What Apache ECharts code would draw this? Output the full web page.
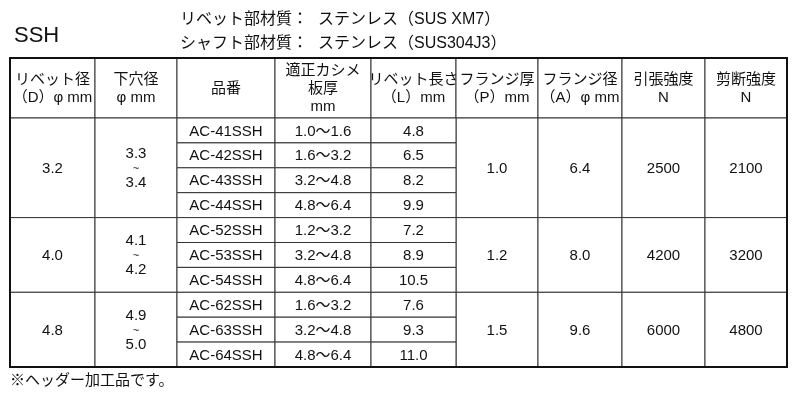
<!DOCTYPE html><html><head><meta charset="utf-8"><script src="https://cdn.jsdelivr.net/npm/echarts@6/dist/echarts.min.js"></script>
<style>body{margin:0}#c{width:800px;height:400px}</style></head><body><div id="c"></div><script>
const headers=['リベット径\n（D）φ mm','下穴径\nφ mm','品番','適正カシメ\n板厚\nmm','リベット長さ\n（L）mm','フランジ厚\n（P）mm','フランジ径\n（A）φ mm','引張強度\nN','剪断強度\nN'];
const rivetDia=['3.2','4.0','4.8'];
const holeDia=['3.3\n~\n3.4','4.1\n~\n4.2','4.9\n~\n5.0'];
const groupSizes=[4,3,3];
const partNos=['AC-41SSH','AC-42SSH','AC-43SSH','AC-44SSH','AC-52SSH','AC-53SSH','AC-54SSH','AC-62SSH','AC-63SSH','AC-64SSH'];
const thickness=['1.0～1.6','1.6～3.2','3.2～4.8','4.8～6.4','1.2～3.2','3.2～4.8','4.8～6.4','1.6～3.2','3.2～4.8','4.8～6.4'];
const lengths=['4.8','6.5','8.2','9.9','7.2','8.9','10.5','7.6','9.3','11.0'];
const flangeT=['1.0','1.2','1.5'];
const flangeD=['6.4','8.0','9.6'];
const tensile=['2500','4200','6000'];
const shear=['2100','3200','4800'];
const colX=[10,95,177,275,371,456,538,622,705,787];
const headTop=58, headBot=118, rowH=24.9;
const rowY=i=>headBot+i*rowH;
const cells=[];
headers.forEach((h,i)=>cells.push({c0:i,c1:i+1,y0:headTop,y1:headBot,t:h}));
let r=0;
groupSizes.forEach((n,g)=>{
  const y0=rowY(r),y1=rowY(r+n);
  [[0,rivetDia],[1,holeDia],[5,flangeT],[6,flangeD],[7,tensile],[8,shear]].forEach(([c,a])=>cells.push({c0:c,c1:c+1,y0,y1,t:a[g],hole:c===1}));
  for(let k=0;k<n;k++){const i=r+k;
    cells.push({c0:2,c1:3,y0:rowY(i),y1:rowY(i+1),t:partNos[i]});
    cells.push({c0:3,c1:4,y0:rowY(i),y1:rowY(i+1),t:thickness[i]});
    cells.push({c0:4,c1:5,y0:rowY(i),y1:rowY(i+1),t:lengths[i]});}
  r+=n;
});
const F='"Liberation Sans","Noto Sans CJK JP",sans-serif';
const chart=echarts.init(document.getElementById('c'));
chart.setOption({animation:false,backgroundColor:'#fff',
 grid:{left:0,right:0,top:0,bottom:0},
 xAxis:{type:'value',min:0,max:800,show:false},
 yAxis:{type:'value',min:0,max:400,inverse:true,show:false},
 series:[{type:'custom',data:cells.map((c,i)=>[i]),silent:true,
  renderItem:(p,api)=>{const c=cells[api.value(0)];
   const a=api.coord([colX[c.c0],c.y0]),b=api.coord([colX[c.c1],c.y1]);
   const cx=(a[0]+b[0])/2,cy=(a[1]+b[1])/2;
   const ch=[{type:'rect',shape:{x:a[0],y:a[1],width:b[0]-a[0],height:b[1]-a[1]},style:{fill:'#fff',stroke:'#333',lineWidth:1}}];
   if(c.hole){const p3=c.t.split('\n');
     ch.push({type:'text',style:{text:p3[0],x:cx,y:cy-14,align:'center',verticalAlign:'middle',font:'15px '+F,fill:'#111'}});
     ch.push({type:'text',style:{text:'~',x:cx,y:cy+1,align:'center',verticalAlign:'middle',font:'11px '+F,fill:'#111'}});
     ch.push({type:'text',style:{text:p3[2],x:cx,y:cy+15,align:'center',verticalAlign:'middle',font:'15px '+F,fill:'#111'}});}
   else ch.push({type:'text',style:{text:c.t,x:cx,y:cy+1,align:'center',verticalAlign:'middle',font:'15px '+F,lineHeight:18,fill:'#111'}});
   return {type:'group',children:ch};}
 },{type:'custom',data:[[0]],silent:true,renderItem:(p,api)=>{const a=api.coord([colX[0],headTop]),b=api.coord([colX[9],rowY(10)]);
   return {type:'rect',shape:{x:a[0],y:a[1],width:b[0]-a[0],height:b[1]-a[1]},style:{fill:'none',stroke:'#111',lineWidth:2}};}}],
 graphic:[
  {type:'text',left:14,top:25,style:{text:'SSH',font:'22px '+F,fill:'#111'}},
  {type:'text',left:180,top:12,style:{text:'リベット部材質：',font:'16px '+F,fill:'#111'}},
  {type:'text',left:180,top:36,style:{text:'シャフト部材質：',font:'16px '+F,fill:'#111'}},
  {type:'text',left:318,top:12,style:{text:'ステンレス（SUS XM7）',font:'16px '+F,fill:'#111'}},
  {type:'text',left:318,top:36,style:{text:'ステンレス（SUS304J3）',font:'16px '+F,fill:'#111'}},
  {type:'text',left:10,top:373,style:{text:'※ヘッダー加工品です。',font:'15px '+F,fill:'#111'}}
 ]});
</script></body></html>
